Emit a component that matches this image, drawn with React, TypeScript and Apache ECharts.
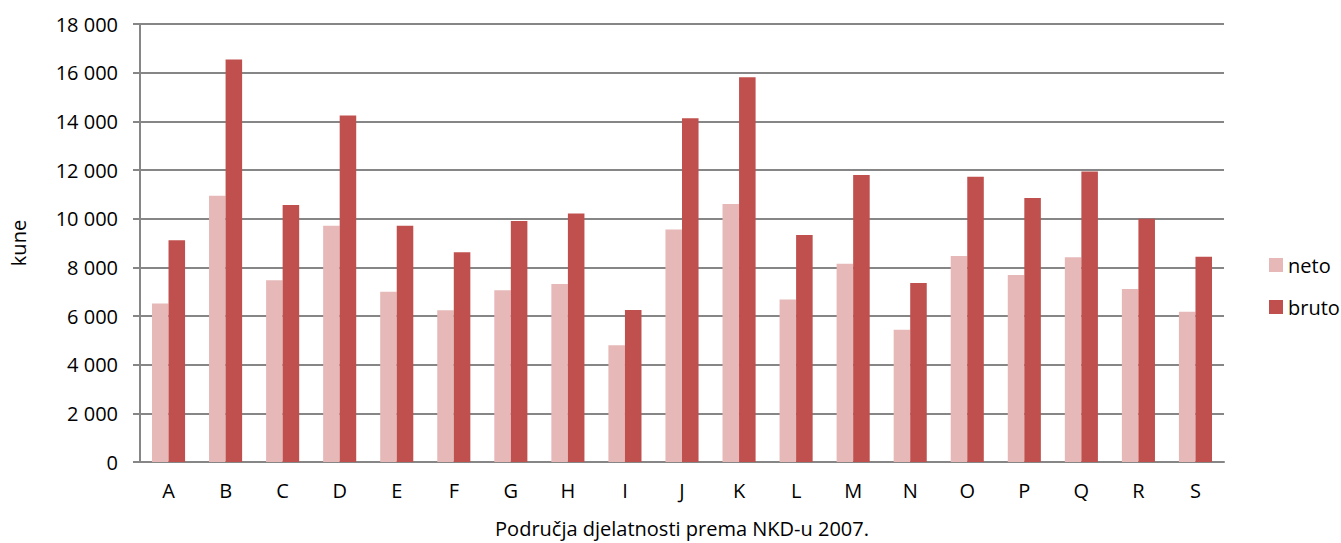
import React, { useEffect, useRef } from "react";
import * as echarts from "echarts";

const categories = ["A", "B", "C", "D", "E", "F", "G", "H", "I", "J", "K", "L", "M", "N", "O", "P", "Q", "R", "S"];
const neto = [6510, 10940, 7470, 9710, 7000, 6240, 7060, 7320, 4800, 9550, 10600, 6680, 8150, 5440, 8470, 7690, 8410, 7110, 6170];
const bruto = [9110, 16540, 10560, 14240, 9710, 8620, 9900, 10210, 6250, 14130, 15810, 9330, 11790, 7360, 11720, 10850, 11940, 10000, 8430];
const seriesNames = ["neto", "bruto"];
const yTitle = "kune";
const xTitle = "Područja djelatnosti prema NKD-u 2007.";

const FONT = "'Open Sans', sans-serif";
const FS = 20;

export default function App() {
  const ref = useRef<HTMLDivElement>(null);
  useEffect(() => {
    if (!ref.current) return;
    const chart = echarts.init(ref.current, null, { renderer: "svg" });
    chart.setOption({
      animation: false,
      backgroundColor: "#ffffff",
      textStyle: { fontFamily: FONT, color: "#000" },
      grid: { left: 139, right: 117, top: 24, bottom: 80 },
      legend: {
        orient: "vertical",
        left: 1264,
        top: 250,
        itemWidth: 14,
        itemHeight: 14,
        itemGap: 22,
        icon: "rect",
        textStyle: { fontFamily: FONT, fontSize: FS, color: "#000" },
        data: seriesNames,
      },
      xAxis: {
        type: "category",
        data: categories,
        name: xTitle,
        nameLocation: "middle",
        nameGap: 56,
        nameTextStyle: { fontFamily: FONT, fontSize: FS, color: "#000" },
        axisLine: { lineStyle: { color: "#868686", width: 2 } },
        axisTick: { show: false },
        axisLabel: { fontFamily: FONT, fontSize: FS, color: "#000", margin: 18 },
      },
      yAxis: {
        type: "value",
        min: 0,
        max: 18000,
        interval: 2000,
        name: yTitle,
        nameLocation: "middle",
        nameRotate: 90,
        nameGap: 112,
        nameTextStyle: { fontFamily: FONT, fontSize: FS, color: "#000" },
        axisLine: { show: true, lineStyle: { color: "#868686", width: 2 } },
        axisTick: { show: true, length: 7, lineStyle: { color: "#868686", width: 2 } },
        splitLine: { lineStyle: { color: "#868686", width: 2 } },
        axisLabel: {
          fontFamily: FONT,
          fontSize: FS,
          color: "#000",
          margin: 22,
          formatter: (v: number) => String(v).replace(/\B(?=(\d{3})+(?!\d))/g, " "),
        },
      },
      series: [
        {
          name: seriesNames[0],
          type: "bar",
          data: neto,
          itemStyle: { color: "#E6B9B8" },
          barGap: "0%",
          barCategoryGap: "42%",
        },
        {
          name: seriesNames[1],
          type: "bar",
          data: bruto,
          itemStyle: { color: "#C0504D" },
          barGap: "0%",
          barCategoryGap: "42%",
        },
      ],
    });
    return () => chart.dispose();
  }, []);
  return <div ref={ref} style={{ position: "fixed", left: 0, top: 0, width: 1341, height: 543 }} />;
}
